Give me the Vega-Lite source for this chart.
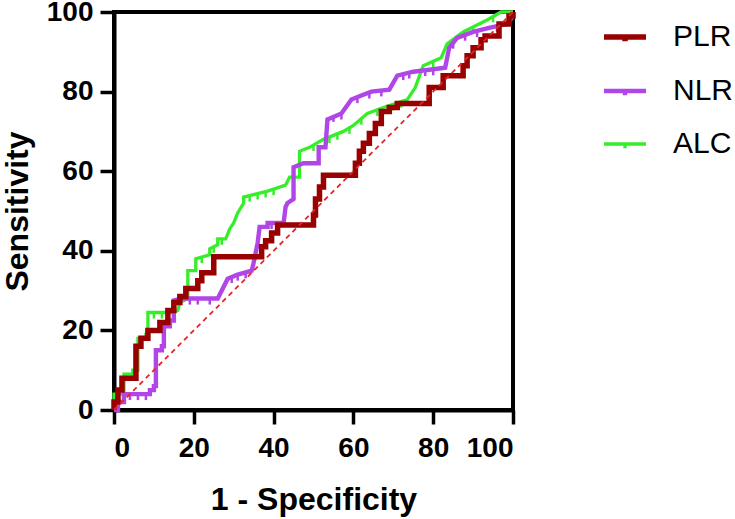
{
  "$schema": "https://vega.github.io/schema/vega-lite/v6.json",
  "width": 399,
  "height": 398,
  "autosize": {"type": "none"},
  "padding": {"left": 114, "top": 12, "right": 222, "bottom": 109},
  "config": {
    "font": "Liberation Sans",
    "view": {"stroke": "black", "strokeWidth": 4},
    "axis": {
      "grid": false,
      "domainColor": "black",
      "domainWidth": 4,
      "tickColor": "black",
      "tickWidth": 3.5,
      "tickSize": 14,
      "labelFont": "Liberation Sans",
      "labelFontWeight": "bold",
      "labelFontSize": 28,
      "labelColor": "black",
      "titleFont": "Liberation Sans",
      "titleFontWeight": "bold",
      "titleFontSize": 32,
      "titleColor": "black"
    }
  },
  "datasets": {
    "roc": [
      {"series": "ALC", "o": 1, "x": 0, "y": 0},
      {"series": "ALC", "o": 2, "x": 0, "y": 4},
      {"series": "ALC", "o": 3, "x": 2.5, "y": 4},
      {"series": "ALC", "o": 4, "x": 2.5, "y": 9},
      {"series": "ALC", "o": 5, "x": 4.7, "y": 9},
      {"series": "ALC", "o": 6, "x": 4.7, "y": 10},
      {"series": "ALC", "o": 7, "x": 6, "y": 10},
      {"series": "ALC", "o": 8, "x": 6, "y": 18},
      {"series": "ALC", "o": 9, "x": 8, "y": 18},
      {"series": "ALC", "o": 10, "x": 8, "y": 19},
      {"series": "ALC", "o": 11, "x": 8.5, "y": 19},
      {"series": "ALC", "o": 12, "x": 8.5, "y": 24.5},
      {"series": "ALC", "o": 13, "x": 14.5, "y": 24.5},
      {"series": "ALC", "o": 14, "x": 16, "y": 25},
      {"series": "ALC", "o": 15, "x": 16.5, "y": 27},
      {"series": "ALC", "o": 16, "x": 18.5, "y": 28},
      {"series": "ALC", "o": 17, "x": 18.5, "y": 35},
      {"series": "ALC", "o": 18, "x": 20.5, "y": 35},
      {"series": "ALC", "o": 19, "x": 20.5, "y": 38},
      {"series": "ALC", "o": 20, "x": 24, "y": 39},
      {"series": "ALC", "o": 21, "x": 24, "y": 40.5},
      {"series": "ALC", "o": 22, "x": 26, "y": 41.5},
      {"series": "ALC", "o": 23, "x": 26, "y": 43},
      {"series": "ALC", "o": 24, "x": 28, "y": 43},
      {"series": "ALC", "o": 25, "x": 29, "y": 45.5},
      {"series": "ALC", "o": 26, "x": 30, "y": 47},
      {"series": "ALC", "o": 27, "x": 31, "y": 49.5},
      {"series": "ALC", "o": 28, "x": 32.5, "y": 52},
      {"series": "ALC", "o": 29, "x": 32.5, "y": 53.5},
      {"series": "ALC", "o": 30, "x": 38.5, "y": 55},
      {"series": "ALC", "o": 31, "x": 43, "y": 56.5},
      {"series": "ALC", "o": 32, "x": 44, "y": 58.5},
      {"series": "ALC", "o": 33, "x": 46.5, "y": 58.5},
      {"series": "ALC", "o": 34, "x": 46.5, "y": 65},
      {"series": "ALC", "o": 35, "x": 49, "y": 66},
      {"series": "ALC", "o": 36, "x": 52.5, "y": 68},
      {"series": "ALC", "o": 37, "x": 57.5, "y": 70},
      {"series": "ALC", "o": 38, "x": 60, "y": 71.5},
      {"series": "ALC", "o": 39, "x": 63.5, "y": 74.5},
      {"series": "ALC", "o": 40, "x": 67.5, "y": 76},
      {"series": "ALC", "o": 41, "x": 73.5, "y": 78},
      {"series": "ALC", "o": 42, "x": 75.5, "y": 81},
      {"series": "ALC", "o": 43, "x": 77.5, "y": 86.5},
      {"series": "ALC", "o": 44, "x": 82, "y": 88.5},
      {"series": "ALC", "o": 45, "x": 83.5, "y": 92},
      {"series": "ALC", "o": 46, "x": 87.5, "y": 95},
      {"series": "ALC", "o": 47, "x": 93.5, "y": 98},
      {"series": "ALC", "o": 48, "x": 97, "y": 100},
      {"series": "ALC", "o": 49, "x": 100, "y": 100},
      {"series": "NLR", "o": 1, "x": 0, "y": 0},
      {"series": "NLR", "o": 2, "x": 1, "y": 0},
      {"series": "NLR", "o": 3, "x": 1, "y": 2},
      {"series": "NLR", "o": 4, "x": 2.5, "y": 2},
      {"series": "NLR", "o": 5, "x": 2.5, "y": 4},
      {"series": "NLR", "o": 6, "x": 9, "y": 4},
      {"series": "NLR", "o": 7, "x": 9, "y": 5},
      {"series": "NLR", "o": 8, "x": 10, "y": 5},
      {"series": "NLR", "o": 9, "x": 10, "y": 6},
      {"series": "NLR", "o": 10, "x": 10.5, "y": 6},
      {"series": "NLR", "o": 11, "x": 10.5, "y": 15},
      {"series": "NLR", "o": 12, "x": 12, "y": 15},
      {"series": "NLR", "o": 13, "x": 12, "y": 16},
      {"series": "NLR", "o": 14, "x": 12.5, "y": 16},
      {"series": "NLR", "o": 15, "x": 12.5, "y": 21},
      {"series": "NLR", "o": 16, "x": 14, "y": 21},
      {"series": "NLR", "o": 17, "x": 14, "y": 22.5},
      {"series": "NLR", "o": 18, "x": 15, "y": 22.5},
      {"series": "NLR", "o": 19, "x": 15, "y": 27.5},
      {"series": "NLR", "o": 20, "x": 17, "y": 28},
      {"series": "NLR", "o": 21, "x": 26, "y": 28},
      {"series": "NLR", "o": 22, "x": 28.5, "y": 33},
      {"series": "NLR", "o": 23, "x": 31, "y": 34},
      {"series": "NLR", "o": 24, "x": 34.5, "y": 35},
      {"series": "NLR", "o": 25, "x": 35, "y": 37},
      {"series": "NLR", "o": 26, "x": 36, "y": 42},
      {"series": "NLR", "o": 27, "x": 36.5, "y": 46},
      {"series": "NLR", "o": 28, "x": 38.5, "y": 46},
      {"series": "NLR", "o": 29, "x": 38.5, "y": 47},
      {"series": "NLR", "o": 30, "x": 42.5, "y": 47},
      {"series": "NLR", "o": 31, "x": 43, "y": 51},
      {"series": "NLR", "o": 32, "x": 43.5, "y": 52},
      {"series": "NLR", "o": 33, "x": 45, "y": 53},
      {"series": "NLR", "o": 34, "x": 45, "y": 61},
      {"series": "NLR", "o": 35, "x": 47.5, "y": 62},
      {"series": "NLR", "o": 36, "x": 51.3, "y": 62},
      {"series": "NLR", "o": 37, "x": 51.3, "y": 66},
      {"series": "NLR", "o": 38, "x": 53, "y": 66},
      {"series": "NLR", "o": 39, "x": 53.5, "y": 73},
      {"series": "NLR", "o": 40, "x": 57, "y": 74.5},
      {"series": "NLR", "o": 41, "x": 59.5, "y": 78},
      {"series": "NLR", "o": 42, "x": 62, "y": 79},
      {"series": "NLR", "o": 43, "x": 64.5, "y": 80},
      {"series": "NLR", "o": 44, "x": 69, "y": 80.5},
      {"series": "NLR", "o": 45, "x": 71, "y": 84},
      {"series": "NLR", "o": 46, "x": 75, "y": 85},
      {"series": "NLR", "o": 47, "x": 83, "y": 86},
      {"series": "NLR", "o": 48, "x": 84, "y": 91},
      {"series": "NLR", "o": 49, "x": 86, "y": 93.5},
      {"series": "NLR", "o": 50, "x": 90, "y": 95},
      {"series": "NLR", "o": 51, "x": 94, "y": 96},
      {"series": "NLR", "o": 52, "x": 98.5, "y": 97},
      {"series": "NLR", "o": 53, "x": 100, "y": 99},
      {"series": "NLR", "o": 54, "x": 100, "y": 100},
      {"series": "PLR", "o": 1, "x": 0, "y": 0},
      {"series": "PLR", "o": 2, "x": 0, "y": 2},
      {"series": "PLR", "o": 3, "x": 1, "y": 2},
      {"series": "PLR", "o": 4, "x": 1, "y": 5},
      {"series": "PLR", "o": 5, "x": 2, "y": 5},
      {"series": "PLR", "o": 6, "x": 2, "y": 8},
      {"series": "PLR", "o": 7, "x": 5.5, "y": 8},
      {"series": "PLR", "o": 8, "x": 5.5, "y": 16},
      {"series": "PLR", "o": 9, "x": 6.75, "y": 16},
      {"series": "PLR", "o": 10, "x": 6.75, "y": 18},
      {"series": "PLR", "o": 11, "x": 8.5, "y": 18},
      {"series": "PLR", "o": 12, "x": 8.5, "y": 20},
      {"series": "PLR", "o": 13, "x": 11.5, "y": 20},
      {"series": "PLR", "o": 14, "x": 11.5, "y": 22},
      {"series": "PLR", "o": 15, "x": 13.5, "y": 22},
      {"series": "PLR", "o": 16, "x": 13.5, "y": 25},
      {"series": "PLR", "o": 17, "x": 15, "y": 25},
      {"series": "PLR", "o": 18, "x": 15, "y": 27},
      {"series": "PLR", "o": 19, "x": 16.5, "y": 27},
      {"series": "PLR", "o": 20, "x": 16.5, "y": 28.5},
      {"series": "PLR", "o": 21, "x": 18, "y": 28.5},
      {"series": "PLR", "o": 22, "x": 18, "y": 30.5},
      {"series": "PLR", "o": 23, "x": 21, "y": 30.5},
      {"series": "PLR", "o": 24, "x": 21, "y": 32.5},
      {"series": "PLR", "o": 25, "x": 22, "y": 32.5},
      {"series": "PLR", "o": 26, "x": 22, "y": 34.5},
      {"series": "PLR", "o": 27, "x": 25, "y": 34.5},
      {"series": "PLR", "o": 28, "x": 25, "y": 38.5},
      {"series": "PLR", "o": 29, "x": 37, "y": 38.5},
      {"series": "PLR", "o": 30, "x": 37, "y": 41},
      {"series": "PLR", "o": 31, "x": 38, "y": 41},
      {"series": "PLR", "o": 32, "x": 38, "y": 42.5},
      {"series": "PLR", "o": 33, "x": 39.5, "y": 42.5},
      {"series": "PLR", "o": 34, "x": 39.5, "y": 44.5},
      {"series": "PLR", "o": 35, "x": 41, "y": 44.5},
      {"series": "PLR", "o": 36, "x": 41, "y": 46.5},
      {"series": "PLR", "o": 37, "x": 50, "y": 46.5},
      {"series": "PLR", "o": 38, "x": 50, "y": 49},
      {"series": "PLR", "o": 39, "x": 50.5, "y": 49},
      {"series": "PLR", "o": 40, "x": 50.5, "y": 53},
      {"series": "PLR", "o": 41, "x": 51.5, "y": 53},
      {"series": "PLR", "o": 42, "x": 51.5, "y": 56},
      {"series": "PLR", "o": 43, "x": 52.5, "y": 56},
      {"series": "PLR", "o": 44, "x": 52.5, "y": 59},
      {"series": "PLR", "o": 45, "x": 60.5, "y": 59},
      {"series": "PLR", "o": 46, "x": 60.5, "y": 62},
      {"series": "PLR", "o": 47, "x": 61.5, "y": 62},
      {"series": "PLR", "o": 48, "x": 61.5, "y": 65},
      {"series": "PLR", "o": 49, "x": 62.5, "y": 65},
      {"series": "PLR", "o": 50, "x": 62.5, "y": 67},
      {"series": "PLR", "o": 51, "x": 64, "y": 67},
      {"series": "PLR", "o": 52, "x": 64, "y": 69.5},
      {"series": "PLR", "o": 53, "x": 65.5, "y": 69.5},
      {"series": "PLR", "o": 54, "x": 65.5, "y": 72},
      {"series": "PLR", "o": 55, "x": 67, "y": 72},
      {"series": "PLR", "o": 56, "x": 67, "y": 75},
      {"series": "PLR", "o": 57, "x": 69, "y": 75},
      {"series": "PLR", "o": 58, "x": 69, "y": 76},
      {"series": "PLR", "o": 59, "x": 71, "y": 76},
      {"series": "PLR", "o": 60, "x": 71, "y": 77},
      {"series": "PLR", "o": 61, "x": 79, "y": 77},
      {"series": "PLR", "o": 62, "x": 79, "y": 81},
      {"series": "PLR", "o": 63, "x": 82.5, "y": 81},
      {"series": "PLR", "o": 64, "x": 82.5, "y": 84},
      {"series": "PLR", "o": 65, "x": 87.5, "y": 84},
      {"series": "PLR", "o": 66, "x": 87.5, "y": 86.5},
      {"series": "PLR", "o": 67, "x": 88.5, "y": 86.5},
      {"series": "PLR", "o": 68, "x": 88.5, "y": 89},
      {"series": "PLR", "o": 69, "x": 90, "y": 89},
      {"series": "PLR", "o": 70, "x": 90, "y": 91},
      {"series": "PLR", "o": 71, "x": 92, "y": 91},
      {"series": "PLR", "o": 72, "x": 92, "y": 93},
      {"series": "PLR", "o": 73, "x": 93, "y": 93},
      {"series": "PLR", "o": 74, "x": 93, "y": 94},
      {"series": "PLR", "o": 75, "x": 96.5, "y": 94},
      {"series": "PLR", "o": 76, "x": 96.5, "y": 97},
      {"series": "PLR", "o": 77, "x": 99, "y": 97},
      {"series": "PLR", "o": 78, "x": 99, "y": 99},
      {"series": "PLR", "o": 79, "x": 100, "y": 99},
      {"series": "PLR", "o": 80, "x": 100, "y": 100}
    ],
    "ticks": [
      {"series": "NLR", "x": 4, "y": 4},
      {"series": "NLR", "x": 6, "y": 4},
      {"series": "NLR", "x": 8, "y": 4},
      {"series": "NLR", "x": 19, "y": 28},
      {"series": "NLR", "x": 21, "y": 28},
      {"series": "NLR", "x": 24, "y": 28},
      {"series": "NLR", "x": 29.5, "y": 33.4},
      {"series": "NLR", "x": 31, "y": 34},
      {"series": "NLR", "x": 33, "y": 34.6},
      {"series": "NLR", "x": 39.5, "y": 47},
      {"series": "NLR", "x": 41, "y": 47},
      {"series": "NLR", "x": 55, "y": 73.9},
      {"series": "NLR", "x": 57, "y": 74.5},
      {"series": "NLR", "x": 61, "y": 78.6},
      {"series": "NLR", "x": 64, "y": 79.8},
      {"series": "NLR", "x": 67, "y": 80.3},
      {"series": "NLR", "x": 72.5, "y": 84.4},
      {"series": "NLR", "x": 74, "y": 84.8},
      {"series": "NLR", "x": 78, "y": 85.4},
      {"series": "NLR", "x": 80, "y": 85.6},
      {"series": "NLR", "x": 85, "y": 92.3},
      {"series": "NLR", "x": 88, "y": 94.3},
      {"series": "NLR", "x": 91, "y": 95.2},
      {"series": "NLR", "x": 96, "y": 96.5},
      {"series": "ALC", "x": 10, "y": 24.5},
      {"series": "ALC", "x": 12, "y": 24.5},
      {"series": "ALC", "x": 22, "y": 38.4},
      {"series": "ALC", "x": 25, "y": 41},
      {"series": "ALC", "x": 27, "y": 43},
      {"series": "ALC", "x": 34, "y": 53.9},
      {"series": "ALC", "x": 36, "y": 54.4},
      {"series": "ALC", "x": 38, "y": 54.9},
      {"series": "ALC", "x": 40, "y": 55.5},
      {"series": "ALC", "x": 50, "y": 66.6},
      {"series": "ALC", "x": 54, "y": 68.6},
      {"series": "ALC", "x": 56, "y": 69.4},
      {"series": "ALC", "x": 59, "y": 70.9},
      {"series": "ALC", "x": 62, "y": 73.2},
      {"series": "ALC", "x": 66, "y": 75.4},
      {"series": "ALC", "x": 70, "y": 76.8},
      {"series": "ALC", "x": 72, "y": 77.5},
      {"series": "ALC", "x": 80, "y": 87.6},
      {"series": "ALC", "x": 85, "y": 93.1},
      {"series": "ALC", "x": 90, "y": 96.2},
      {"series": "ALC", "x": 95, "y": 98.9}
    ],
    "diag": [
      {"x": 0, "y": 0},
      {"x": 100, "y": 100}
    ]
  },
  "layer": [
    {
      "data": {"name": "ticks"},
      "mark": {"type": "tick", "orient": "vertical", "thickness": 2.5, "size": 6, "yOffset": 3, "opacity": 1},
      "encoding": {
        "x": {"field": "x", "type": "quantitative"},
        "y": {"field": "y", "type": "quantitative"},
        "color": {"field": "series", "type": "nominal"}
      }
    },
    {
      "data": {"name": "roc"},
      "mark": {"type": "line", "strokeJoin": "miter", "strokeCap": "butt", "opacity": 1},
      "encoding": {
        "x": {
          "field": "x", "type": "quantitative",
          "scale": {"domain": [0, 100], "nice": false, "zero": false},
          "axis": {"values": [0, 20, 40, 60, 80, 100], "title": "1 - Specificity", "titlePadding": 22, "labelPadding": 10}
        },
        "y": {
          "field": "y", "type": "quantitative",
          "scale": {"domain": [0, 100], "nice": false, "zero": false},
          "axis": {"values": [0, 20, 40, 60, 80, 100], "title": "Sensitivity", "titlePadding": 12, "labelPadding": 7}
        },
        "order": {"field": "o", "type": "quantitative"},
        "color": {
          "field": "series", "type": "nominal",
          "scale": {"domain": ["PLR", "NLR", "ALC"], "range": ["#990000", "#B146E8", "#35EE2A"]},
          "legend": {
            "title": null,
            "orient": "none",
            "legendX": 487,
            "legendY": 1,
            "symbolType": "M-1,0H1M0,0V0.2",
            "symbolSize": 1764,
            "symbolStrokeWidth": 4,
            "symbolOpacity": 1,
            "symbolFillColor": "transparent",
            "labelFont": "Liberation Sans",
            "labelFontSize": 30,
            "labelColor": "black",
            "labelOffset": 24,
            "rowPadding": 14.5
          }
        },
        "strokeWidth": {
          "field": "series", "type": "nominal",
          "scale": {"domain": ["PLR", "NLR", "ALC"], "range": [5.5, 3.3, 3.3]},
          "legend": null
        }
      }
    },
    {
      "data": {"name": "diag"},
      "mark": {"type": "line", "color": "#E3262A", "strokeWidth": 1.8, "strokeDash": [5, 4]},
      "encoding": {
        "x": {"field": "x", "type": "quantitative"},
        "y": {"field": "y", "type": "quantitative"}
      }
    }
  ]
}
